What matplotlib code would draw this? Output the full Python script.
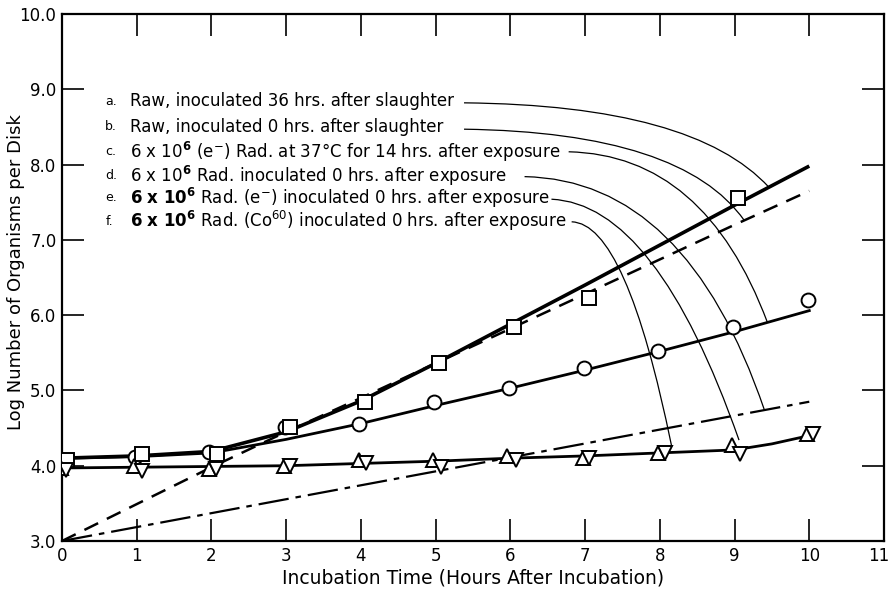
import matplotlib
matplotlib.use("Agg")
import matplotlib.pyplot as plt
import matplotlib.transforms as mtransforms
import numpy as np
from matplotlib.path import Path
from matplotlib.patches import PathPatch

plt.rcParams['font.family'] = ['DejaVu Sans']
plt.rcParams['mathtext.fontset'] = 'dejavusans'
plt.rcParams['lines.scale_dashes'] = False

# ---- data -------------------------------------------------------------
x_ticks = [0, 1, 2, 3, 4, 5, 6, 7, 8, 9, 10, 11]
y_ticks = [3.0, 4.0, 5.0, 6.0, 7.0, 8.0, 9.0, 10.0]

sq_x = [0.07, 1.07, 2.07, 3.05, 4.05, 5.05, 6.05, 7.05, 9.05]
sq_y = [4.07, 4.15, 4.16, 4.52, 4.85, 5.36, 5.84, 6.23, 7.55]

ci_x = [0.0, 0.98, 1.97, 2.98, 3.98, 4.98, 5.98, 6.98, 7.98, 8.98, 9.98]
ci_y = [4.07, 4.12, 4.18, 4.52, 4.55, 4.85, 5.03, 5.30, 5.53, 5.84, 6.20]

tu_x = [-0.01, 0.97, 1.97, 2.97, 3.97, 4.97, 5.95, 6.97, 7.97, 8.97, 9.97]
tu_y = [3.97, 4.00, 3.96, 4.00, 4.07, 4.08, 4.13, 4.10, 4.17, 4.27, 4.42]

td_x = [0.05, 1.07, 2.06, 3.05, 4.07, 5.07, 6.07, 7.05, 8.07, 9.07, 10.05]
td_y = [3.94, 3.93, 3.96, 4.00, 4.04, 3.98, 4.08, 4.10, 4.17, 4.15, 4.42]

# fitted curves
curve_x = [0, 1, 2, 3, 4, 5, 6, 7, 8, 9, 10]
a_y = [4.10, 4.13, 4.19, 4.45, 4.86, 5.36, 5.88, 6.40, 6.93, 7.46, 7.98]
b_y = [3.00, 3.49, 3.98, 4.45, 4.90, 5.36, 5.82, 6.28, 6.74, 7.20, 7.65]
c_y = [4.10, 4.12, 4.17, 4.35, 4.56, 4.80, 5.03, 5.27, 5.52, 5.78, 6.06]
d_x = [0, 2, 4, 6, 8, 10]
d_y = [3.00, 3.37, 3.74, 4.11, 4.48, 4.85]
e_x = [0, 1, 2, 3, 4, 5, 6, 7, 8, 9, 9.5, 10]
e_y = [3.97, 3.98, 3.99, 4.00, 4.03, 4.06, 4.10, 4.13, 4.17, 4.21, 4.29, 4.40]

labels_letter = ["a.", "b.", "c.", "d.", "e.", "f."]
labels_text = [
    "Raw, inoculated 36 hrs. after slaughter",
    "Raw, inoculated 0 hrs. after slaughter",
    r"6 x 10$^{\mathbf{6}}$ (e$^{-}$) Rad. at 37°C for 14 hrs. after exposure",
    r"6 x 10$^{\mathbf{6}}$ Rad. inoculated 0 hrs. after exposure",
    r"$\mathbf{6\ x\ 10^{6}}$ Rad. (e$^{-}$) inoculated 0 hrs. after exposure",
    r"$\mathbf{6\ x\ 10^{6}}$ Rad. (Co$^{60}$) inoculated 0 hrs. after exposure",
]
label_y = [8.84, 8.50, 8.17, 7.85, 7.56, 7.25]
# leader curves: start point, control point, target x, target y (None -> on curve)
leader_start = [(5.38, 8.82), (5.38, 8.47), (6.78, 8.17), (6.19, 7.84), (6.55, 7.54), (6.82, 7.24)]
leader_ctrl = [(8.45, 8.79), (8.30, 8.43), (8.60, 8.13), (8.35, 7.80), (7.95, 7.48), (7.55, 7.22)]
leader_tx = [9.46, 9.13, 9.44, 9.40, 9.06, 8.16]
leader_curve = ['a', 'b', 'c', 'd', None, None]
leader_ty = [None, None, None, None, 4.34, 4.25]

# ---- figure -----------------------------------------------------------
fig = plt.figure(figsize=(8.9, 5.91), dpi=100)
ax = fig.add_axes([62/890, 1-541/591, (884-62)/890, (541-14)/591])
ax.set_xlim(0, 11)
ax.set_ylim(3, 10)

k = 'black'
ax.plot(curve_x, a_y, color=k, lw=2.6, solid_capstyle='butt', zorder=2)
ax.plot(curve_x, b_y, color=k, lw=1.8, dashes=(11, 7), zorder=2)
ax.plot(curve_x, c_y, color=k, lw=2.0, zorder=2)
ax.plot(d_x, d_y, color=k, lw=1.6, dashes=(22, 5, 4, 5), zorder=2)
ax.plot(e_x, e_y, color=k, lw=2.0, zorder=2)

mk = dict(linestyle='none', markerfacecolor='white', markeredgecolor=k,
          markeredgewidth=1.4, zorder=3)
ax.plot(ci_x, ci_y, marker='o', markersize=10, **mk)
ax.plot(sq_x, sq_y, marker='s', markersize=9.5, **mk)
ax.plot(tu_x, tu_y, marker='^', markersize=10, **mk)
ax.plot(td_x, td_y, marker='v', markersize=10, **mk)

for let, txt, yy in zip(labels_letter, labels_text, label_y):
    ax.text(0.58, yy, let, fontsize=9, va='center', ha='left')
    ax.text(0.91, yy, txt, fontsize=12, va='center', ha='left')

curves = {'a': (curve_x, a_y), 'b': (curve_x, b_y), 'c': (curve_x, c_y), 'd': (d_x, d_y)}
for p0, p1, tx, cname, ty in zip(leader_start, leader_ctrl, leader_tx, leader_curve, leader_ty):
    if cname is not None:
        cx, cy = curves[cname]
        ty = float(np.interp(tx, cx, cy))
    path = Path([p0, p1, (tx, ty)], [Path.MOVETO, Path.CURVE3, Path.CURVE3])
    ax.add_patch(PathPatch(path, facecolor='none', edgecolor=k, lw=0.9, zorder=1))

ax.set_xticks(x_ticks)
ax.set_xticklabels([str(v) for v in x_ticks])
ax.set_yticks(y_ticks)
ax.set_yticklabels([f"{v:.1f}" for v in y_ticks])
ax.tick_params(direction='in', length=16, width=1.2, top=True, right=True,
               labelsize=12, pad=4)
for s in ax.spines.values():
    s.set_linewidth(1.6)
# keep the last x label inside the figure
last = ax.get_xticklabels()[-1]
last.set_transform(last.get_transform() + mtransforms.ScaledTranslation(-5/100, 0, fig.dpi_scale_trans))

ax.set_xlabel("Incubation Time (Hours After Incubation)", fontsize=13.5, labelpad=3)
fig.text(16/890, 1-272/591, "Log Number of Organisms per Disk", rotation=90,
         fontsize=13, ha='center', va='center')

fig.savefig("out.png", dpi=100)
